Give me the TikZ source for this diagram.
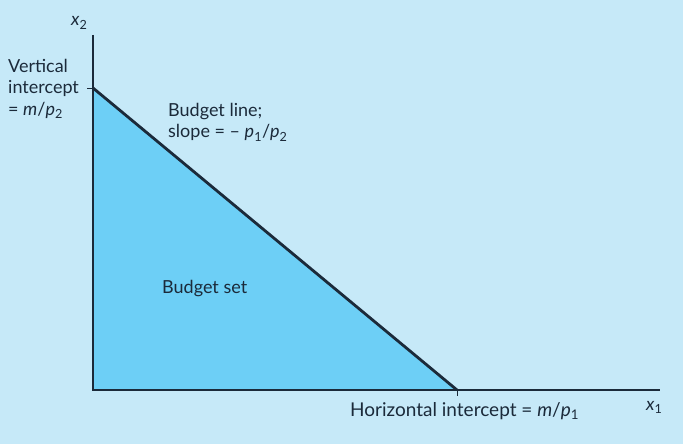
\documentclass[tikz,border=0pt]{standalone}
\usepackage{fontspec}
\setmainfont{Lato}
\newcommand{\vr}[2]{\textit{#1}\textsubscript{#2}}
\begin{document}
\begin{tikzpicture}[x=1pt,y=-1pt,
  lbl/.style={text=txt,font=\fontsize{18}{21.5}\selectfont,inner sep=0pt},
  axis/.style={draw=txt,line width=1.8pt}]
\definecolor{bg}{HTML}{C6E9F8}
\definecolor{setfill}{HTML}{6DCFF6}
\definecolor{txt}{HTML}{1B2A3A}
\fill[bg] (0,0) rectangle (683,444);
\useasboundingbox (0,0) rectangle (683,444);
\coordinate (O) at (93,390);
\coordinate (Ytop) at (93,35);
\coordinate (Xend) at (660,390);
\coordinate (A) at (93,88);
\coordinate (B) at (457,390);
\fill[setfill] (O) -- (A) -- (B) -- cycle;
\draw[axis] (Ytop) -- (O) -- (Xend);
\draw[txt,line width=2.8pt] (A) -- (B);
\draw[txt,line width=0.8pt] (A) -- ++(-6,0);
\draw[txt,line width=0.8pt] (B) -- ++(0,6);
\node[lbl,anchor=base west] (x2) at (71,26) {\vr{x}{2}};
\node[lbl,anchor=north west,align=left] (vi) at (8,59) {Vertical\\intercept\\= \textit{m}/\vr{p}{2}};
\node[lbl,anchor=north west,align=left] (bl) at (168,103) {Budget line;\\slope = -- \vr{p}{1}/\vr{p}{2}};
\node[lbl,anchor=base west] (bs) at (162,293) {Budget set};
\node[lbl,anchor=base west,font=\fontsize{19}{22}\selectfont] (hi) at (350,416) {Horizontal intercept = \textit{m}/\vr{p}{1}};
\node[lbl,anchor=base west] (x1) at (646,410) {\vr{x}{1}};
\end{tikzpicture}
\end{document}
